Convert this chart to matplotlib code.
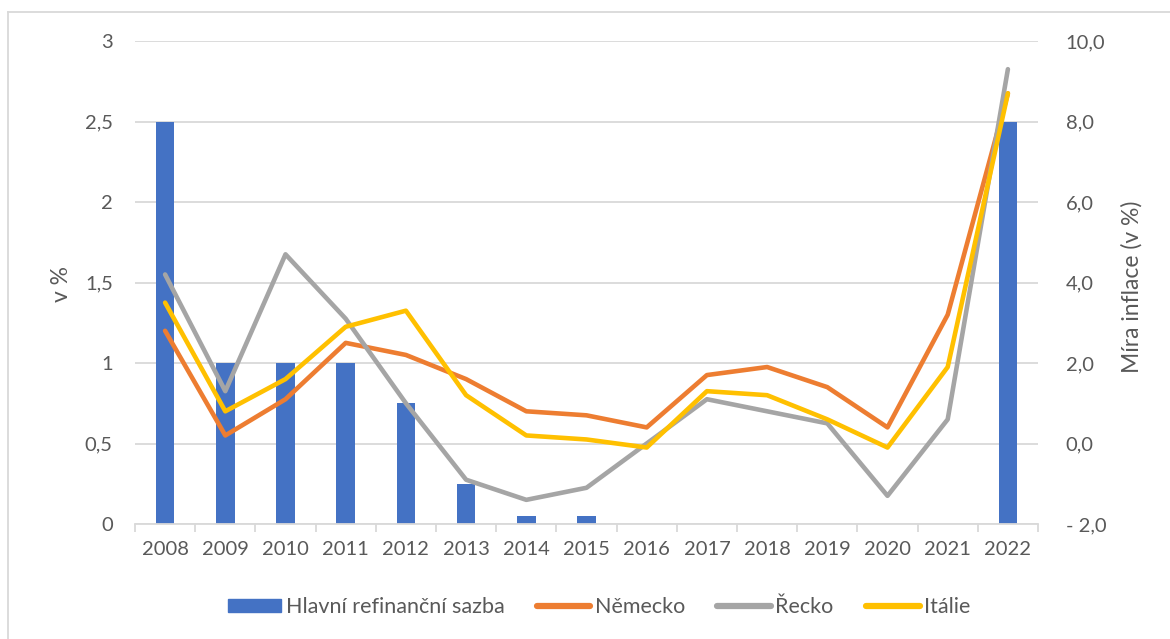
import matplotlib
matplotlib.use("Agg")
import matplotlib.pyplot as plt
from matplotlib.ticker import FuncFormatter, FixedLocator
from matplotlib.lines import Line2D

years = ["2008", "2009", "2010", "2011", "2012", "2013", "2014", "2015",
         "2016", "2017", "2018", "2019", "2020", "2021", "2022"]
refi_rate = [2.5, 1.0, 1.0, 1.0, 0.75, 0.25, 0.05, 0.05, 0, 0, 0, 0, 0, 0, 2.5]
germany = [2.8, 0.2, 1.1, 2.5, 2.2, 1.6, 0.8, 0.7, 0.4, 1.7, 1.9, 1.4, 0.4, 3.2, 8.7]
greece = [4.2, 1.3, 4.7, 3.1, 1.0, -0.9, -1.4, -1.1, 0.0, 1.1, 0.8, 0.5, -1.3, 0.6, 9.3]
italy = [3.5, 0.8, 1.6, 2.9, 3.3, 1.2, 0.2, 0.1, -0.1, 1.3, 1.2, 0.6, -0.1, 1.9, 8.7]

left_ticks = [0, 0.5, 1, 1.5, 2, 2.5, 3]
right_ticks = [-2, 0, 2, 4, 6, 8, 10]

C_BLUE = "#4472C4"
C_ORANGE = "#ED7D31"
C_GRAY = "#A5A5A5"
C_YELLOW = "#FFC000"
C_TEXT = "#595959"
C_GRID = "#D9D9D9"

plt.rcParams["font.family"] = ["Lato", "DejaVu Sans"]
FS = 14.5

fig = plt.figure(figsize=(11.7, 6.39), dpi=100)
W, H = 1170, 639
ax = fig.add_axes([135 / W, 1 - 524 / H, (1038 - 135) / W, (524 - 41) / H])
ax2 = ax.twinx()

x = list(range(len(years)))
ax.bar(x, refi_rate, width=0.31, color=C_BLUE, zorder=2)
ax.set_ylim(0, 3)
ax.set_xlim(-0.5, len(years) - 0.5)
ax.yaxis.set_major_locator(FixedLocator(left_ticks))
ax.yaxis.set_major_formatter(FuncFormatter(lambda v, p: ("%g" % v).replace(".", ",")))
ax.grid(axis="y", color=C_GRID, linewidth=1.3, zorder=0)
ax.set_axisbelow(True)

ax.set_xticks(x)
ax.set_xticklabels(years)
ax.set_xticks([i + 0.5 for i in range(-1, len(years))], minor=True)
ax.tick_params(axis="x", which="major", length=0, pad=12, labelsize=FS, colors=C_TEXT)
ax.tick_params(axis="x", which="minor", length=6, width=1.3, color=C_GRID)
ax.tick_params(axis="y", length=0, pad=16, labelsize=FS, colors=C_TEXT)

for s in ["top", "left", "right"]:
    ax.spines[s].set_visible(False)
    ax2.spines[s].set_visible(False)
ax.spines["bottom"].set_color(C_GRID)
ax.spines["bottom"].set_linewidth(1.3)
ax2.spines["bottom"].set_visible(False)

ax2.plot(x, germany, color=C_ORANGE, linewidth=3.3, solid_capstyle="round", solid_joinstyle="round", zorder=3)
ax2.plot(x, greece, color=C_GRAY, linewidth=3.3, solid_capstyle="round", solid_joinstyle="round", zorder=4)
ax2.plot(x, italy, color=C_YELLOW, linewidth=3.3, solid_capstyle="round", solid_joinstyle="round", zorder=5)
ax2.set_ylim(-2, 10)
ax2.yaxis.set_major_locator(FixedLocator(right_ticks))


def rfmt(v, p):
    s = ("%.1f" % abs(v)).replace(".", ",")
    return ("- " + s) if v < 0 else s


ax2.yaxis.set_major_formatter(FuncFormatter(rfmt))
ax2.tick_params(axis="y", length=0, pad=20, labelsize=FS, colors=C_TEXT)

fig.text(62 / W, 1 - 284 / H, "v %", rotation=90, ha="center", va="center",
         fontsize=16.5, color=C_TEXT)
fig.text(1132 / W, 1 - 287 / H, "Míra inflace (v %)", rotation=90, ha="center", va="center",
         fontsize=16.5, color=C_TEXT)

handles = [
    plt.Rectangle((0, 0), 1, 1, color=C_BLUE),
    Line2D([0], [0], color=C_ORANGE, linewidth=4.5, solid_capstyle="round"),
    Line2D([0], [0], color=C_GRAY, linewidth=4.5, solid_capstyle="round"),
    Line2D([0], [0], color=C_YELLOW, linewidth=4.5, solid_capstyle="round"),
]
labels = ["Hlavní refinanční sazba", "Německo", "Řecko", "Itálie"]
LFS = 15.5
fig.legend(handles, labels, loc="center", bbox_to_anchor=(599 / W, 1 - 607 / H),
           ncol=4, frameon=False, fontsize=LFS, handlelength=2.5, handleheight=0.6,
           handletextpad=0.2, columnspacing=1.5, labelcolor=C_TEXT)

# chart-area border (visible on left and top)
fig.add_artist(Line2D([8 / W, 8 / W], [0, 1 - 12 / H], color=C_GRID, linewidth=1.3))
fig.add_artist(Line2D([8 / W, 1], [1 - 12 / H, 1 - 12 / H], color=C_GRID, linewidth=1.3))

fig.savefig("out.png", dpi=100)
